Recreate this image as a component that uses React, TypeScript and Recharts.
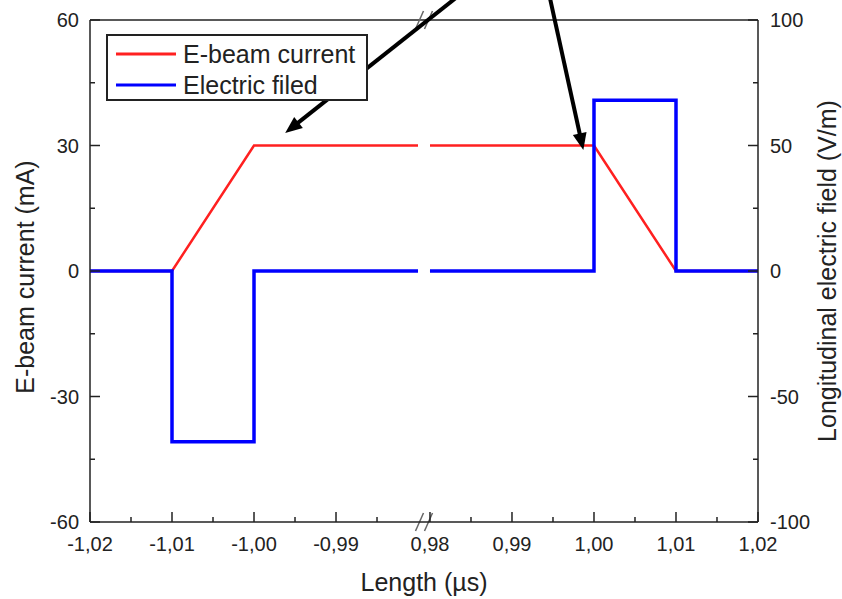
import React from "react";
import { Legend, Line, LineChart, ReferenceLine, XAxis, YAxis } from "recharts";

const INK = "#222";
const FONT = "'Liberation Sans', Arial, sans-serif";
const RED = "#ff2020";
const BLUE = "#0000ff";

// broken x axis: -1.02..-0.98 | 0.98..1.02, GAP is the width of the break in 0.01 steps
const GAP = 0.146;

// null x marks the break, the line is interrupted there
const redX = [-1.02, -1.01, -1.0, -0.98, null, 0.98, 1.0, 1.01, 1.02];
const redY = [0, 0, 30, 30, null, 30, 30, 0, 0];
const blueX = [-1.02, -1.01, -1.01, -1.0, -1.0, -0.98, null, 0.98, 1.0, 1.0, 1.01, 1.01, 1.02];
const blueY = [0, 0, -68, -68, 0, 0, null, 0, 0, 68, 68, 0, 0];

const majorX = [-1.02, -1.01, -1.0, -0.99, 0.98, 0.99, 1.0, 1.01, 1.02];
const minorX = [-1.015, -1.005, -0.995, -0.985, 0.985, 0.995, 1.005, 1.015];
const leftMajor = [-60, -30, 0, 30, 60];
const leftMinor = [-45, -15, 15, 45];
const rightMajor = [-100, -50, 0, 50, 100];
const rightMinor = [-75, -25, 25, 75];

// annotation arrows: start (x, mA) -> tip (x, mA)
const arrows = [
  [0.9833, 65.5, -0.9962, 33.0],
  [0.9946, 65.5, 0.9987, 28.9],
];

const series = [
  { name: "E-beam current", color: RED },
  { name: "Electric filed", color: BLUE },
];

const pos = (x: number | null) =>
  x === null ? 4 + GAP / 2 : x < 0 ? (x + 1.02) * 100 : (x - 0.98) * 100 + 4 + GAP;

const fmt = (v: number) => v.toFixed(2).replace(".", ",");

const redData = redX.map((x, i) => ({ u: pos(x), v: redY[i] }));
const blueData = blueX.map((x, i) => ({ u: pos(x), v: blueY[i] }));

const xTicks = [...majorX, ...minorX].map(pos).sort((a, b) => a - b);
const leftTicks = [...leftMajor, ...leftMinor].sort((a, b) => a - b);
const rightTicks = [...rightMajor, ...rightMinor].sort((a, b) => a - b);

const textStyle = { fontFamily: FONT, fontSize: 20, fill: INK };

const XTick = ({ x, y, payload }: any) => {
  const m = majorX.find((v) => Math.abs(pos(v) - payload.value) < 1e-6);
  const major = m !== undefined;
  return (
    <g>
      <line x1={x} x2={x} y1={y} y2={y - (major ? 10 : 5)} stroke={INK} strokeWidth={1.5} />
      {major && (
        <text x={x} y={y + 29} textAnchor="middle" {...textStyle}>
          {fmt(m as number)}
        </text>
      )}
    </g>
  );
};

const LeftTick = ({ x, y, payload }: any) => {
  const major = leftMajor.includes(payload.value);
  return (
    <g>
      <line x1={x} x2={x + (major ? 10 : 5)} y1={y} y2={y} stroke={INK} strokeWidth={1.5} />
      {major && (
        <text x={x - 11} y={y + 7} textAnchor="end" {...textStyle}>
          {payload.value}
        </text>
      )}
    </g>
  );
};

const RightTick = ({ x, y, payload }: any) => {
  const major = rightMajor.includes(payload.value);
  return (
    <g>
      <line x1={x} x2={x - (major ? 10 : 5)} y1={y} y2={y} stroke={INK} strokeWidth={1.5} />
      {major && (
        <text x={x + 12} y={y + 7} textAnchor="start" {...textStyle}>
          {payload.value}
        </text>
      )}
    </g>
  );
};

const Arrow = (props: any) => {
  const { x1, y1, x2, y2 } = props;
  const dx = x2 - x1;
  const dy = y2 - y1;
  const len = Math.hypot(dx, dy) || 1;
  const ux = dx / len;
  const uy = dy / len;
  const hl = 17;
  const hw = 7;
  const bx = x2 - ux * hl;
  const by = y2 - uy * hl;
  return (
    <g>
      <line x1={x1} y1={y1} x2={bx + ux * 2} y2={by + uy * 2} stroke="#000" strokeWidth={4} />
      <polygon
        points={`${x2},${y2} ${bx - uy * hw},${by + ux * hw} ${bx + uy * hw},${by - ux * hw}`}
        fill="#000"
      />
    </g>
  );
};

// two slashes at the top and bottom of the break
const BreakMarks = (props: any) => {
  const { x1, y1, y2 } = props;
  const top = Math.min(y1, y2);
  const bottom = Math.max(y1, y2);
  const slash = (cx: number, cy: number, k: string) => (
    <line key={k} x1={cx - 4} y1={cy + 9} x2={cx + 4} y2={cy - 9} stroke="#666" strokeWidth={1.5} />
  );
  return (
    <g>
      {slash(x1 - 4.5, top, "t1")}
      {slash(x1 + 4.5, top, "t2")}
      {slash(x1 - 4.5, bottom, "b1")}
      {slash(x1 + 4.5, bottom, "b2")}
    </g>
  );
};

const LegendBox = () => (
  <div
    style={{
      boxSizing: "border-box",
      width: 262,
      height: 67,
      border: `2px solid ${INK}`,
      background: "#fff",
      position: "relative",
      fontFamily: FONT,
      fontSize: 25,
      color: INK,
    }}
  >
    {series.map((s, i) => (
      <div
        key={s.name}
        style={{ position: "absolute", left: 8, top: 4 + i * 31, height: 28, display: "flex", alignItems: "center" }}
      >
        <svg width={60} height={6}>
          <line x1={0} x2={60} y1={3} y2={3} stroke={s.color} strokeWidth={3} />
        </svg>
        <span style={{ marginLeft: 7, lineHeight: "28px", whiteSpace: "nowrap" }}>{s.name}</span>
      </div>
    ))}
  </div>
);

const titleStyle = { fontFamily: FONT, fontSize: 25, fill: INK };

export default function App() {
  return (
    <div style={{ position: "absolute", left: 0, top: 0, background: "#fff" }}>
      <LineChart width={842} height={599} margin={{ top: 20, right: 0, bottom: 0, left: 0 }}>
        <XAxis
          type="number"
          dataKey="u"
          domain={[0, 8 + GAP]}
          ticks={xTicks}
          interval={0}
          height={77}
          tickSize={0}
          tickMargin={0}
          tick={<XTick />}
          tickLine={false}
          axisLine={{ stroke: INK, strokeWidth: 1.5 }}
          allowDuplicatedCategory={false}
          label={{
            content: ({ viewBox }: any) => (
              <text x={viewBox.x + viewBox.width / 2} y={viewBox.y + 69} textAnchor="middle" {...titleStyle}>
                Length (µs)
              </text>
            ),
          }}
        />
        <YAxis
          yAxisId="left"
          orientation="left"
          domain={[-60, 60]}
          ticks={leftTicks}
          interval={0}
          width={90}
          tickSize={0}
          tickMargin={0}
          tick={<LeftTick />}
          tickLine={false}
          axisLine={{ stroke: INK, strokeWidth: 1.5 }}
          label={{
            content: ({ viewBox }: any) => {
              const cx = viewBox.x + 25;
              const cy = viewBox.y + viewBox.height / 2 + 6;
              return (
                <text x={cx} y={cy} dy="0.36em" textAnchor="middle" transform={`rotate(-90 ${cx} ${cy})`} {...titleStyle}>
                  E-beam current (mA)
                </text>
              );
            },
          }}
        />
        <YAxis
          yAxisId="right"
          orientation="right"
          domain={[-100, 100]}
          ticks={rightTicks}
          interval={0}
          width={84}
          tickSize={0}
          tickMargin={0}
          tick={<RightTick />}
          tickLine={false}
          axisLine={{ stroke: INK, strokeWidth: 1.5 }}
          label={{
            content: ({ viewBox }: any) => {
              const cx = viewBox.x + 69;
              const cy = viewBox.y + viewBox.height / 2;
              return (
                <text x={cx} y={cy} dy="0.36em" textAnchor="middle" transform={`rotate(-90 ${cx} ${cy})`} {...titleStyle}>
                  Longitudinal electric field (V/m)
                </text>
              );
            },
          }}
        />
        <ReferenceLine yAxisId="left" y={60} stroke={INK} strokeWidth={1.5} />
        <Line
          yAxisId="left"
          data={redData}
          dataKey="v"
          type="linear"
          stroke={RED}
          strokeWidth={2.5}
          dot={false}
          activeDot={false}
          isAnimationActive={false}
        />
        <Line
          yAxisId="right"
          data={blueData}
          dataKey="v"
          type="linear"
          stroke={BLUE}
          strokeWidth={3.5}
          dot={false}
          activeDot={false}
          isAnimationActive={false}
        />
        <ReferenceLine yAxisId="left" x={pos(null)} stroke="none" shape={BreakMarks} />
        {arrows.map((a, i) => (
          <ReferenceLine
            key={i}
            yAxisId="left"
            ifOverflow="visible"
            segment={[
              { x: pos(a[0]), y: a[1] },
              { x: pos(a[2]), y: a[3] },
            ]}
            shape={Arrow}
          />
        ))}
        <Legend
          layout="vertical"
          align="center"
          verticalAlign="middle"
          content={<LegendBox />}
          wrapperStyle={{ left: 106, top: 34, width: 262, height: 67 }}
        />
      </LineChart>
    </div>
  );
}
